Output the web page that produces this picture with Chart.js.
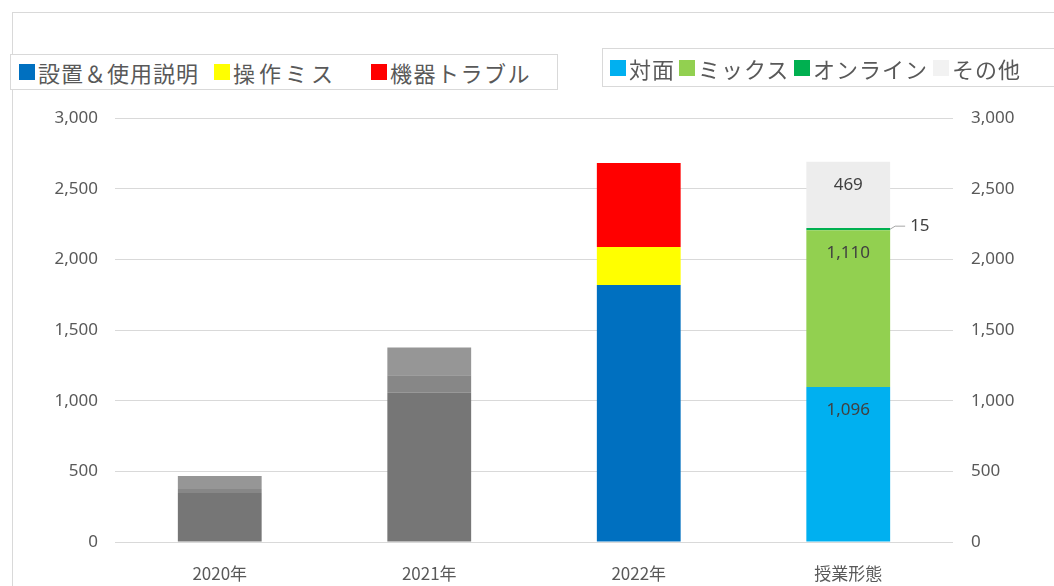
<!DOCTYPE html>
<html><head><meta charset="utf-8">
<script src="https://cdn.jsdelivr.net/npm/chart.js@4.4.1/dist/chart.umd.min.js"></script>
<style>
html,body{margin:0;padding:0;background:#fff;}
#wrap{position:relative;width:1054px;height:586px;overflow:hidden;font-family:"Noto Sans CJK JP","Noto Sans",sans-serif;}
#frame{position:absolute;left:12px;top:12px;width:1100px;height:700px;border-left:1px solid #D9D9D9;border-top:1px solid #D9D9D9;}
canvas{position:absolute;left:0;top:0;}
.lg{position:absolute;background:#fff;border:1px solid #D9D9D9;box-sizing:border-box;}
.it{position:absolute;top:0;height:100%;display:flex;align-items:center;color:#595959;font-size:22px;white-space:nowrap;}
.sw{display:inline-block;width:16px;height:16px;margin-right:3px;}
</style></head><body>
<div id="wrap">
<div id="frame"></div>
<canvas id="c" width="1054" height="586"></canvas>
<div class="lg" id="lg1" style="left:10px;top:54px;width:548px;height:36px;"></div>
<div class="lg" id="lg2" style="left:602px;top:48px;width:470px;height:39px;"></div>
</div>
<script>
const categories = ["2020年", "2021年", "2022年", "授業形態"];
const yTicks = [0, 500, 1000, 1500, 2000, 2500, 3000];

const gray1 = [347, 1056, null, null];
const gray2 = [28, 123, null, null];
const gray3 = [92, 198, null, null];
const setupUsage = [null, null, 1818, null];
const opError = [null, null, 269, null];
const deviceTrouble = [null, null, 594, null];
const faceToFace = [null, null, null, 1096];
const mixed = [null, null, null, 1110];
const online = [null, null, null, 15];
const other = [null, null, null, 469];

const legend1 = [["設置＆使用説明", "#0070C0", 18, '1px'], ["操作ミス", "#FFFF00", 213, '4px'], ["機器トラブル", "#FF0000", 370, '1.5px']];
const legend2 = [["対面", "#00B0F0", 609, '1px'], ["ミックス", "#92D050", 678, '1px'], ["オンライン", "#00B050", 793, '1px'], ["その他", "#F2F2F2", 932, '1px']];

function buildLegend(id, items, boxLeft) {
  const el = document.getElementById(id);
  items.forEach(([t, c, x, sp]) => {
    const d = document.createElement('div');
    d.className = 'it';
    d.style.left = (x - boxLeft) + 'px';
    d.style.letterSpacing = sp;
    d.innerHTML = '<span class="sw" style="background:' + c + '"></span><span>' + t + '</span>';
    el.appendChild(d);
  });
}
buildLegend('lg1', legend1, 10);
buildLegend('lg2', legend2, 602);

const ds = (label, data, color) => ({label, data, backgroundColor: color, stack: 's', borderWidth: 0, barPercentage: 0.4, categoryPercentage: 1});

const datasets = [
  ds("g1", gray1, "#767676"),
  ds("g2", gray2, "#878787"),
  ds("g3", gray3, "#969696"),
  ds("設置＆使用説明", setupUsage, "#0070C0"),
  ds("操作ミス", opError, "#FFFF00"),
  ds("機器トラブル", deviceTrouble, "#FF0000"),
  ds("対面", faceToFace, "#00B0F0"),
  ds("ミックス", mixed, "#92D050"),
  ds("オンライン", online, "#00B050"),
  ds("その他", other, "#EDEDED"),
];

const fmt = v => Number(v).toLocaleString('en-US');

const labelPlugin = {
  id: 'labels',
  afterDatasetsDraw(chart) {
    const ctx = chart.ctx;
    ctx.save();
    ctx.font = '17px "Noto Sans","Noto Sans CJK JP",sans-serif';
    ctx.fillStyle = '#404040';
    ctx.textAlign = 'center';
    ctx.textBaseline = 'middle';
    [6, 7, 9].forEach(i => {
      const meta = chart.getDatasetMeta(i);
      const bar = meta.data[3];
      const v = chart.data.datasets[i].data[3];
      const p = bar.getProps(['x', 'y', 'base'], true);
      ctx.fillText(fmt(v), p.x, p.y + 23);
    });
    const meta = chart.getDatasetMeta(8);
    const bar = meta.data[3];
    const p = bar.getProps(['x', 'y', 'base', 'width'], true);
    const right = p.x + p.width / 2;
    const yMid = (p.y + p.base) / 2;
    ctx.strokeStyle = '#A6A6A6';
    ctx.lineWidth = 1;
    ctx.beginPath();
    ctx.moveTo(right, yMid);
    ctx.lineTo(right + 5, yMid - 3);
    ctx.lineTo(right + 15, yMid - 3);
    ctx.stroke();
    ctx.textAlign = 'left';
    ctx.fillText(fmt(chart.data.datasets[8].data[3]), right + 20, yMid - 3);
    ctx.restore();
  }
};

const tickFont = {family: '"Noto Sans","Noto Sans CJK JP",sans-serif', size: 17};

new Chart(document.getElementById('c'), {
  type: 'bar',
  data: {labels: categories, datasets},
  plugins: [labelPlugin],
  options: {
    responsive: false,
    animation: false,
    layout: {padding: {top: 118, bottom: 0, left: 0, right: 0}},
    plugins: {legend: {display: false}, tooltip: {enabled: false}},
    scales: {
      x: {
        stacked: true,
        grid: {display: false},
        border: {display: false},
        ticks: {color: '#595959', font: {family: '"Noto Sans CJK JP",sans-serif', size: 17}, padding: 13},
        afterFit(s) { s.height = 44; }
      },
      y: {
        stacked: true, min: 0, max: 3000,
        afterBuildTicks(s) { s.ticks = yTicks.map(v => ({value: v})); },
        grid: {color: '#D9D9D9', drawTicks: false},
        border: {display: false},
        ticks: {color: '#595959', font: tickFont, padding: 17, callback: v => fmt(v)},
        afterFit(s) { s.width = 115; }
      },
      y2: {
        position: 'right', min: 0, max: 3000,
        afterBuildTicks(s) { s.ticks = yTicks.map(v => ({value: v})); },
        grid: {drawOnChartArea: false, drawTicks: false},
        border: {display: false},
        ticks: {color: '#595959', font: tickFont, padding: 18, callback: v => fmt(v)},
        afterFit(s) { s.width = 101; }
      }
    }
  }
});
</script>
</body></html>
